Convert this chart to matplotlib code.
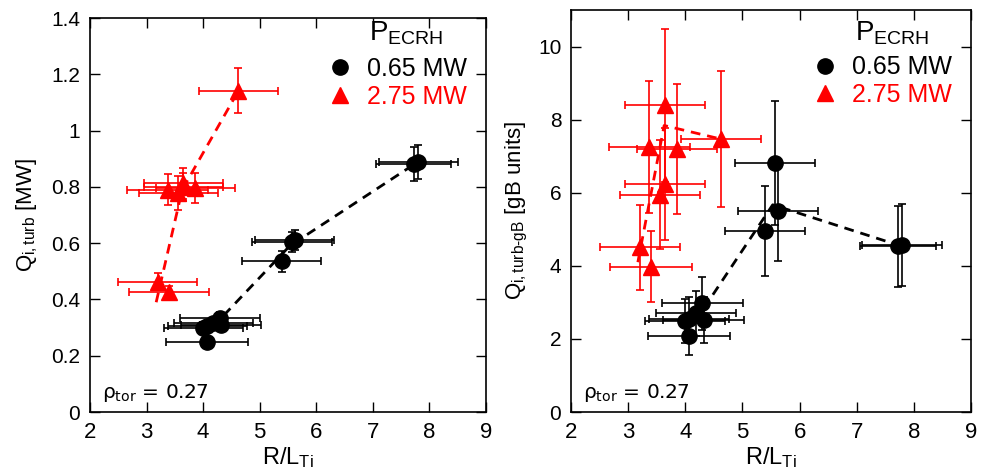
import matplotlib
matplotlib.use('Agg')
import matplotlib.pyplot as plt
from matplotlib.lines import Line2D

plt.rcParams['font.family'] = ['Liberation Sans', 'DejaVu Sans']
plt.rcParams['mathtext.fontset'] = 'custom'
plt.rcParams['mathtext.rm'] = 'Liberation Sans'
plt.rcParams['mathtext.it'] = 'Liberation Sans:italic'

RED = '#ff0000'

# 0.65 MW (black circles)
low_x = [4.00, 4.07, 4.18, 4.30, 4.32, 4.07, 5.39, 5.57, 5.62, 7.72, 7.80]
low_xerr = [0.70, 0.70, 0.70, 0.71, 0.71, 0.72, 0.70, 0.70, 0.70, 0.66, 0.70]
low_q = [0.300, 0.305, 0.315, 0.335, 0.310, 0.248, 0.535, 0.605, 0.610, 0.880, 0.888]
low_q_err = [0.02, 0.02, 0.02, 0.02, 0.02, 0.015, 0.037, 0.035, 0.035, 0.06, 0.06]
low_qgb = [2.50, 2.55, 2.70, 2.97, 2.52, 2.08, 4.96, 6.82, 5.51, 4.53, 4.57]
low_qgb_err = [0.60, 0.60, 0.62, 0.72, 0.64, 0.52, 1.23, 1.70, 1.38, 1.10, 1.12]

# 2.75 MW (red triangles)
high_x = [3.20, 3.40, 3.37, 3.56, 3.65, 3.65, 3.86, 4.62]
high_xerr = [0.70, 0.71, 0.71, 0.70, 0.70, 0.70, 0.70, 0.70]
high_q = [0.463, 0.427, 0.789, 0.777, 0.813, 0.800, 0.795, 1.142]
high_q_err = [0.03, 0.02, 0.055, 0.06, 0.055, 0.05, 0.053, 0.08]
high_qgb = [4.51, 3.98, 7.25, 5.94, 8.39, 6.24, 7.19, 7.47]
high_qgb_err = [1.16, 0.98, 1.80, 1.49, 2.09, 1.53, 1.78, 1.87]

# dashed trend lines
low_trend_x = [4.16, 5.53, 7.76]
low_trend_q = [0.300, 0.590, 0.884]
low_trend_qgb = [2.45, 5.67, 4.55]
high_trend_x = [3.17, 3.63, 4.62]
high_trend_q = [0.390, 0.790, 1.140]
high_trend_qgb = [4.10, 7.84, 7.47]

fig = plt.figure(figsize=(9.81, 4.70), dpi=100)
ax1 = fig.add_axes([90/981, 58/470, 396/981, 394/470])
ax2 = fig.add_axes([571/981, 58/470, 400/981, 402/470])


def draw(ax, lq, lqe, hq, hqe, ltr, htr):
    ax.plot(low_trend_x, ltr, '--', color='black', lw=2.0, dashes=(3.5, 2.5), zorder=2)
    ax.plot(high_trend_x, htr, '--', color=RED, lw=2.0, dashes=(3.5, 2.5), zorder=2)
    ax.errorbar(low_x, lq, xerr=low_xerr, yerr=lqe, fmt='o', color='black',
                ms=11, elinewidth=1.2, capsize=3, capthick=1.2, zorder=3)
    ax.errorbar(high_x, hq, xerr=high_xerr, yerr=hqe, fmt='^', color=RED,
                ms=12, elinewidth=1.2, capsize=3, capthick=1.2, zorder=3)
    ax.set_xlim(2, 9)
    ax.set_xticks(range(2, 10))
    ax.tick_params(direction='in', top=True, right=True, length=7, width=1,
                   labelsize=16, pad=7)
    ax.tick_params(axis='y', labelsize=15)
    for s in ax.spines.values():
        s.set_linewidth(1.2)
    ax.set_xlabel(r'R/L$_{\rm Ti}$', fontsize=17, labelpad=2)
    ax.text(0.03, 0.035, r'ρ$_{\rm tor}$ = 0.27', transform=ax.transAxes,
            fontsize=14.5, family='DejaVu Sans', math_fontfamily='dejavusans')


draw(ax1, low_q, low_q_err, high_q, high_q_err, low_trend_q, high_trend_q)
ax1.set_ylim(0, 1.4)
ax1.set_yticks([0, 0.2, 0.4, 0.6, 0.8, 1, 1.2, 1.4])
ax1.set_yticklabels(['0', '0.2', '0.4', '0.6', '0.8', '1', '1.2', '1.4'])
ax1.set_ylabel(r'Q$_{\rm i,turb}$ [MW]', fontsize=16, labelpad=8)

draw(ax2, low_qgb, low_qgb_err, high_qgb, high_qgb_err, low_trend_qgb, high_trend_qgb)
ax2.set_ylim(0, 11)
ax2.set_yticks([0, 2, 4, 6, 8, 10])
ax2.set_ylabel(r'Q$_{\rm i,turb\text{-}gB}$ [gB units]', fontsize=16, labelpad=6)

handles = [Line2D([], [], ls='none', marker='o', color='black', ms=11),
           Line2D([], [], ls='none', marker='^', color=RED, ms=12)]
for ax, tx, ty, lx, ly in [(ax1, 0.705, 0.962, 0.567, 0.933), (ax2, 0.711, 0.943, 0.572, 0.918)]:
    ax.text(tx, ty, r'P$_{\rm ECRH}$', transform=ax.transAxes, fontsize=20,
            va='center', ha='left')
    ax.legend(handles, ['0.65 MW', '2.75 MW'], loc='upper left',
              bbox_to_anchor=(lx, ly), frameon=False, fontsize=18,
              labelcolor=['black', RED], borderpad=0, handlelength=1.0,
              handletextpad=0.6, labelspacing=0.15)

fig.savefig('out.png', dpi=100)
